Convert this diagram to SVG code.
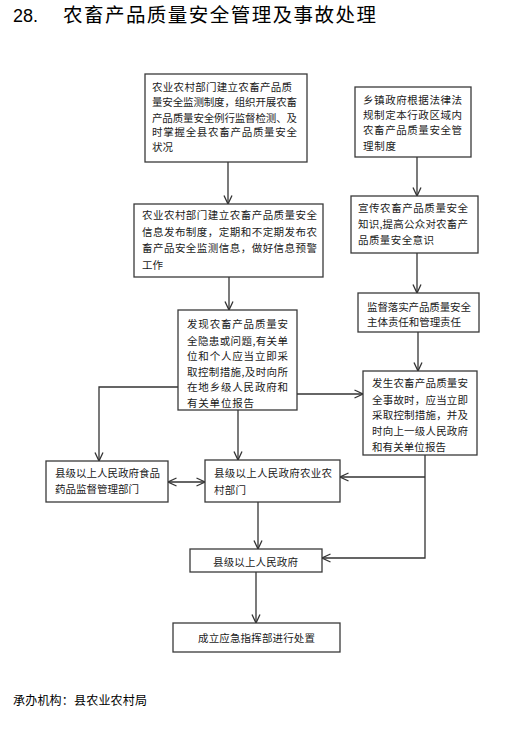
<svg xmlns="http://www.w3.org/2000/svg" width="521" height="731" viewBox="0 0 521 731">
<style>
.bg{fill:#ffffff}
.box{fill:#ffffff;stroke:#3a3a3a;stroke-width:1.3}
.t{font-family:"Noto Sans CJK SC","Liberation Sans",sans-serif;font-size:10.5px;fill:#1a1a1a}
.title{font-family:"Noto Sans CJK SC","Liberation Sans",sans-serif;font-size:19.5px;fill:#000}
.num{font-family:"Liberation Sans",sans-serif;font-size:18px;fill:#000}
.foot{font-family:"Noto Sans CJK SC","Liberation Sans",sans-serif;font-size:12px;fill:#000}
.ln{fill:none;stroke:#333;stroke-width:1.3}
</style>
<defs>
<marker id="ar" viewBox="0 0 10 10" refX="9.5" refY="5" markerWidth="10" markerHeight="10" markerUnits="userSpaceOnUse" orient="auto-start-reverse">
<path d="M1,1 L9.5,5 L1,9" fill="none" stroke="#333" stroke-width="1.3"/>
</marker>
</defs>
<rect class="bg" x="0" y="0" width="521" height="731"/>
<text class="num" x="13" y="22">28.</text>
<text class="title" x="63" y="22" textLength="313" lengthAdjust="spacing">农畜产品质量安全管理及事故处理</text>

<g id="connectors">
<line class="ln" x1="228" y1="162" x2="228" y2="204" marker-end="url(#ar)"/>
<line class="ln" x1="229" y1="277" x2="229" y2="310" marker-end="url(#ar)"/>
<line class="ln" x1="417" y1="157" x2="417" y2="196" marker-end="url(#ar)"/>
<line class="ln" x1="417" y1="253" x2="417" y2="293" marker-end="url(#ar)"/>
<line class="ln" x1="418" y1="332" x2="418" y2="371" marker-end="url(#ar)"/>
<line class="ln" x1="297" y1="394" x2="363" y2="394" marker-end="url(#ar)"/>
<polyline class="ln" points="178,387 99,387 99,461" marker-end="url(#ar)"/>
<line class="ln" x1="238" y1="410" x2="238" y2="460" marker-end="url(#ar)"/>
<line class="ln" x1="168" y1="482" x2="205" y2="482" marker-start="url(#ar)" marker-end="url(#ar)"/>
<polyline class="ln" points="425,455 425,558 322,558" marker-end="url(#ar)"/>
<line class="ln" x1="425" y1="477" x2="340" y2="477" marker-end="url(#ar)"/>
<line class="ln" x1="258" y1="502" x2="258" y2="549" marker-end="url(#ar)"/>
<line class="ln" x1="256" y1="572" x2="256" y2="623" marker-end="url(#ar)"/>
</g>

<g id="n1">
<rect class="box" x="145" y="74" width="162" height="88"/>
<text class="t" x="152" y="91" textLength="140" lengthAdjust="spacing">农业农村部门建立农畜产品质</text>
<text class="t" x="152" y="106" textLength="145" lengthAdjust="spacing">量安全监测制度，组织开展农畜</text>
<text class="t" x="152" y="121.5" textLength="145" lengthAdjust="spacing">产品质量安全例行监督检测、及</text>
<text class="t" x="152" y="136" textLength="145" lengthAdjust="spacing">时掌握全县农畜产品质量安全</text>
<text class="t" x="152" y="151">状况</text>
</g>

<g id="n2">
<rect class="box" x="134" y="204" width="189" height="73"/>
<text class="t" x="142" y="219" textLength="175" lengthAdjust="spacing">农业农村部门建立农畜产品质量安全</text>
<text class="t" x="142" y="236" textLength="175" lengthAdjust="spacing">信息发布制度，定期和不定期发布农</text>
<text class="t" x="142" y="252" textLength="175" lengthAdjust="spacing">畜产品安全监测信息，做好信息预警</text>
<text class="t" x="142" y="269">工作</text>
</g>

<g id="n3">
<rect class="box" x="178" y="310" width="119" height="100"/>
<text class="t" x="187" y="328" textLength="101" lengthAdjust="spacing">发现农畜产品质量安</text>
<text class="t" x="187" y="344.5" textLength="101" lengthAdjust="spacing">全隐患或问题,有关单</text>
<text class="t" x="187" y="360" textLength="101" lengthAdjust="spacing">位和个人应当立即采</text>
<text class="t" x="187" y="375.5" textLength="101" lengthAdjust="spacing">取控制措施,及时向所</text>
<text class="t" x="187" y="391" textLength="101" lengthAdjust="spacing">在地乡级人民政府和</text>
<text class="t" x="187" y="406.5" textLength="67" lengthAdjust="spacing">有关单位报告</text>
</g>

<g id="n4">
<rect class="box" x="355" y="87" width="116" height="70"/>
<text class="t" x="363" y="104" textLength="99" lengthAdjust="spacing">乡镇政府根据法律法</text>
<text class="t" x="363" y="118.5" textLength="99" lengthAdjust="spacing">规制定本行政区域内</text>
<text class="t" x="363" y="134" textLength="99" lengthAdjust="spacing">农畜产品质量安全管</text>
<text class="t" x="363" y="150" textLength="33" lengthAdjust="spacing">理制度</text>
</g>

<g id="n5">
<rect class="box" x="351" y="196" width="127" height="57"/>
<text class="t" x="358" y="212" textLength="110" lengthAdjust="spacing">宣传农畜产品质量安全</text>
<text class="t" x="358" y="227.5" textLength="110" lengthAdjust="spacing">知识,提高公众对农畜产</text>
<text class="t" x="358" y="244" textLength="76" lengthAdjust="spacing">品质量安全意识</text>
</g>

<g id="n6">
<rect class="box" x="358" y="293" width="121" height="39"/>
<text class="t" x="367" y="311" textLength="104" lengthAdjust="spacing">监督落实产品质量安全</text>
<text class="t" x="367" y="326" textLength="94" lengthAdjust="spacing">主体责任和管理责任</text>
</g>

<g id="n7">
<rect class="box" x="363" y="371" width="114" height="84"/>
<text class="t" x="372" y="387" textLength="96" lengthAdjust="spacing">发生农畜产品质量安</text>
<text class="t" x="372" y="404" textLength="96" lengthAdjust="spacing">全事故时，应当立即</text>
<text class="t" x="372" y="419" textLength="96" lengthAdjust="spacing">采取控制措施，并及</text>
<text class="t" x="372" y="435" textLength="96" lengthAdjust="spacing">时向上一级人民政府</text>
<text class="t" x="372" y="451" textLength="74" lengthAdjust="spacing">和有关单位报告</text>
</g>

<g id="n8">
<rect class="box" x="46" y="461" width="122" height="41"/>
<text class="t" x="55" y="477" textLength="105" lengthAdjust="spacing">县级以上人民政府食品</text>
<text class="t" x="55" y="493" textLength="84" lengthAdjust="spacing">药品监督管理部门</text>
</g>

<g id="n9">
<rect class="box" x="205" y="460" width="135" height="42"/>
<text class="t" x="214" y="477" textLength="118" lengthAdjust="spacing">县级以上人民政府农业农</text>
<text class="t" x="214" y="494" textLength="32" lengthAdjust="spacing">村部门</text>
</g>

<g id="n10">
<rect class="box" x="190" y="549" width="132" height="23"/>
<text class="t" x="213" y="566" textLength="85" lengthAdjust="spacing">县级以上人民政府</text>
</g>

<g id="n11">
<rect class="box" x="173" y="623" width="167" height="29"/>
<text class="t" x="198" y="642" textLength="117" lengthAdjust="spacing">成立应急指挥部进行处置</text>
</g>

<text class="foot" x="13" y="705" textLength="134" lengthAdjust="spacing">承办机构：县农业农村局</text>
</svg>
